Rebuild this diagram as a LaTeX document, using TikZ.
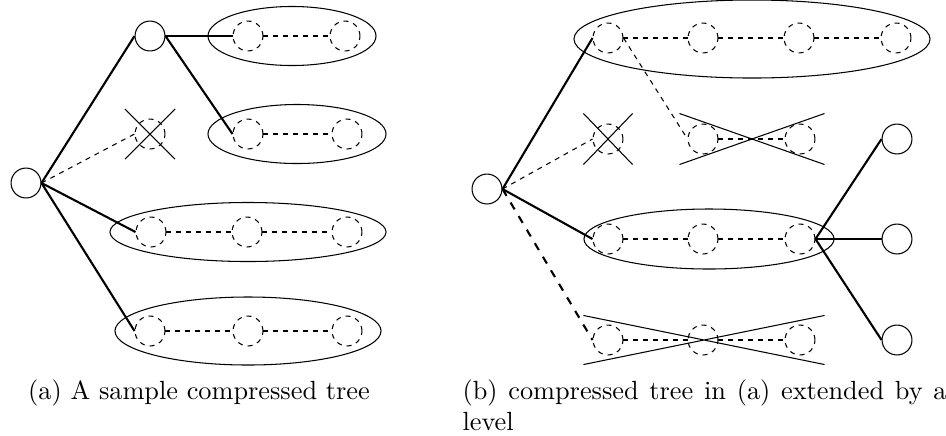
\documentclass[tikz,border=0pt]{standalone}
\usepackage{amsmath, amssymb}
\usepackage{tikz}
\usetikzlibrary{shapes}

\begin{document}
\begin{tikzpicture}[x=0.01337cm, y=-0.01337cm,
    vtx/.style={draw, circle, inner sep=0pt, minimum size=0.4cm},
    dvtx/.style={draw, circle, inner sep=0pt, minimum size=0.4cm, dash pattern=on 1.9pt off 1.9pt},
    grp/.style={draw, ellipse, inner sep=0pt},
    cut/.style={draw, cross out, inner sep=0pt},
    branch/.style={line width=0.8pt},
    dbranch/.style={dash pattern=on 1.9pt off 1.9pt}]
    \useasboundingbox (0,0) rectangle (946,435);

    % (a) groups of the compressed tree
    \node[grp, minimum width=2.246cm, minimum height=0.789cm] (E1) at (292,36) {};
    \node[grp, minimum width=2.380cm, minimum height=0.789cm] (E2) at (297,134) {};
    \node[grp, minimum width=3.690cm, minimum height=0.789cm] (E3) at (248,232) {};
    \node[grp, minimum width=3.556cm, minimum height=0.909cm] (E4) at (248,331) {};

    % (a) vertices
    \node[vtx] (R) at (26,183) {};
    \node[vtx] (A) at (150,36) {};
    \node[dvtx] (X) at (150,134) {};
    \node[cut, minimum size=0.655cm] (XX) at (150,134) {};
    \node[dvtx] (E11) at (248,36) {};
    \node[dvtx] (E12) at (345,36) {};
    \node[dvtx] (E21) at (248,134) {};
    \node[dvtx] (E22) at (347,134) {};
    \node[dvtx] (E31) at (151,232) {};
    \node[dvtx] (E32) at (247,232) {};
    \node[dvtx] (E33) at (347,232) {};
    \node[dvtx] (E41) at (150,331) {};
    \node[dvtx] (E42) at (248,331) {};
    \node[dvtx] (E43) at (347,331) {};

    % (a) edges
    \draw[branch] (R.east) -- (A.west);
    \draw[dbranch] (R.east) -- (X.west);
    \draw[branch] (R.east) -- (E31.west);
    \draw[branch] (R.east) -- (E41.west);
    \draw[branch] (A.east) -- (E11.west);
    \draw[branch] (A.east) -- (E21.west);
    \draw[dbranch] (E11) -- (E12);
    \draw[dbranch] (E21) -- (E22);
    \draw[dbranch] (E31) -- (E32) -- (E33);
    \draw[dbranch] (E41) -- (E42) -- (E43);

    % (b) groups of the extended tree
    \node[grp, minimum width=4.760cm, minimum height=1.043cm] (F1) at (752,39) {};
    \node[grp, minimum width=3.343cm, minimum height=0.802cm] (F2) at (709,239) {};

    % (b) vertices
    \node[vtx] (S) at (487,189) {};
    \node[dvtx] (Y) at (608,139) {};
    \node[cut, minimum width=0.642cm, minimum height=0.668cm] (YY) at (608,139) {};
    \node[dvtx] (F11) at (608,38) {};
    \node[dvtx] (F12) at (703,38) {};
    \node[dvtx] (F13) at (799,38) {};
    \node[dvtx] (F14) at (896,38) {};
    \node[dvtx] (P1) at (703,139) {};
    \node[dvtx] (P2) at (800,139) {};
    \node[cut, minimum width=1.925cm, minimum height=0.668cm] (PP) at (752,139) {};
    \node[dvtx] (F21) at (608,239) {};
    \node[dvtx] (F22) at (703,239) {};
    \node[dvtx] (F23) at (800,239) {};
    \node[dvtx] (G1) at (608,340) {};
    \node[dvtx] (G2) at (703,340) {};
    \node[dvtx] (G3) at (800,340) {};
    \node[cut, minimum width=3.209cm, minimum height=0.642cm] (GG) at (704,340) {};
    \node[vtx] (T1) at (897,139) {};
    \node[vtx] (T2) at (897,239) {};
    \node[vtx] (T3) at (897,340) {};

    % (b) edges
    \draw[branch] (S.east) -- (F11.west);
    \draw[dbranch] (S.east) -- (Y.west);
    \draw[branch] (S.east) -- (F21.west);
    \draw[branch, dashed] (S.east) -- (G1.west);
    \draw[dbranch] (F11.east) -- (P1.west);
    \draw[dbranch] (F11) -- (F12) -- (F13) -- (F14);
    \draw[dbranch] (P1) -- (P2);
    \draw[dbranch] (F21) -- (F22) -- (F23);
    \draw[dbranch] (G1) -- (G2) -- (G3);
    \draw[branch] (F23.east) -- (T1.west);
    \draw[branch] (F23.east) -- (T2.west);
    \draw[branch] (F23.east) -- (T3.west);

    % captions
    \node[inner sep=0pt, anchor=base] (capa) at (199,399) {(a) A sample compressed tree};
    \node[inner sep=0pt, anchor=base west, text width=6.47cm, align=justify] (capb) at (462,399)
        {(b) compressed tree in (a) extended by a level};
\end{tikzpicture}
\end{document}
